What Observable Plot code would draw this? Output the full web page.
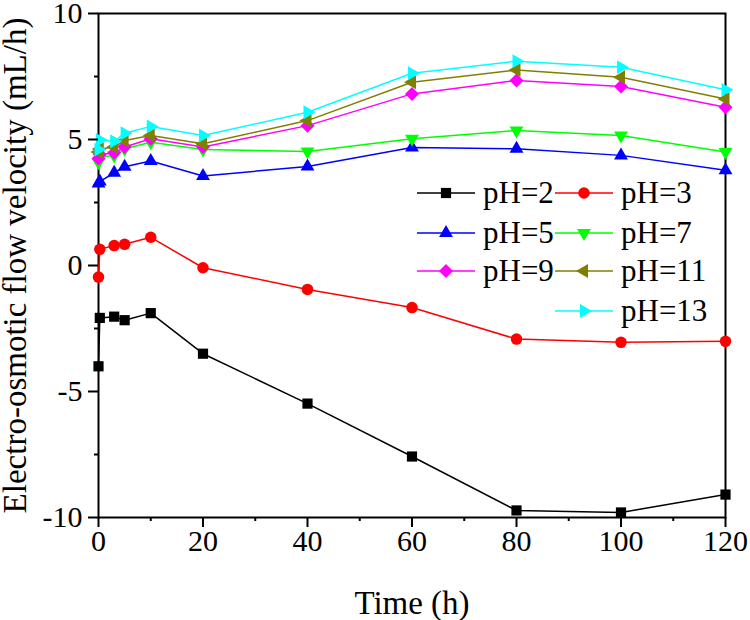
<!DOCTYPE html>
<html><head><meta charset="utf-8">
<script src="https://cdn.jsdelivr.net/npm/d3@7"></script>
<script src="https://cdn.jsdelivr.net/npm/@observablehq/plot@0.6"></script>
<style>
body{margin:0;background:#fff;}
#wrap{position:relative;width:750px;height:620px;}
#legend{position:absolute;left:0;top:0;pointer-events:none;}
#legend text{font-family:"Liberation Serif","Times New Roman",serif;}
</style></head><body><div id="wrap"></div>
<script>
// ---- data ----
const times = [0, 0.25, 3, 5, 10, 20, 40, 60, 80, 100, 120];
const seriesNames = ["pH=2", "pH=3", "pH=5", "pH=7", "pH=9", "pH=11", "pH=13"];
const pH2  = [-4.0, -2.08, -2.03, -2.17, -1.89, -3.5, -5.48, -7.58, -9.72, -9.8, -9.09];
const pH3  = [-0.46, 0.64, 0.79, 0.84, 1.12, -0.09, -0.95, -1.67, -2.92, -3.05, -3.01];
const pH5  = [3.25, 3.33, 3.68, 3.92, 4.15, 3.55, 3.93, 4.68, 4.63, 4.37, 3.78];
const pH7  = [4.1, 4.3, 4.37, 4.63, 4.89, 4.6, 4.52, 5.03, 5.36, 5.16, 4.5];
const pH9  = [4.25, 4.4, 4.47, 4.7, 5.03, 4.7, 5.55, 6.81, 7.34, 7.1, 6.28];
const pH11 = [4.5, 4.62, 4.7, 4.96, 5.16, 4.83, 5.75, 7.27, 7.76, 7.47, 6.61];
const pH13 = [4.6, 4.98, 4.93, 5.25, 5.52, 5.16, 6.08, 7.63, 8.11, 7.87, 6.97];
const seriesValues = [pH2, pH3, pH5, pH7, pH9, pH11, pH13];
const colors = ["#000000", "#ff0000", "#0000ff", "#00ff00", "#ff00ff", "#808000", "#00ffff"];
const xTicks = [0, 20, 40, 60, 80, 100, 120];
const xMinor = [10, 30, 50, 70, 90, 110];
const yTicks = [-10, -5, 0, 5, 10];
const yMinor = [-7.5, -2.5, 2.5, 7.5];
const xTitle = "Time (h)";
const yTitle = "Electro-osmotic flow velocity (mL/h)";

// ---- symbols ----
function tri(angleDeg, k) {
  return {draw(ctx, size) {
    const s = Math.sqrt(size / Math.PI) * k;
    for (let i = 0; i < 3; i++) {
      const a = (angleDeg + 120 * i) * Math.PI / 180;
      const x = s * Math.cos(a), y = s * Math.sin(a);
      if (i) ctx.lineTo(x, y); else ctx.moveTo(x, y);
    }
    ctx.closePath();
  }};
}
const square = {draw(ctx, size) { const s = Math.sqrt(size / Math.PI) * 1.02; ctx.rect(-s, -s, 2 * s, 2 * s); }};
const circle = {draw(ctx, size) { const s = Math.sqrt(size / Math.PI) * 1.15; ctx.moveTo(s, 0); ctx.arc(0, 0, s, 0, 2 * Math.PI); }};
const diamond = {draw(ctx, size) { const s = Math.sqrt(size / Math.PI) * 1.4; ctx.moveTo(0, -s); ctx.lineTo(s, 0); ctx.lineTo(0, s); ctx.lineTo(-s, 0); ctx.closePath(); }};
const symbols = [square, circle, tri(-90, 1.6), tri(90, 1.6), diamond, tri(180, 1.6), tri(0, 1.6)];

const rows = [];
seriesNames.forEach((name, i) => times.forEach((t, j) => rows.push({t, v: seriesValues[i][j], s: name})));

const font = "'Liberation Serif', 'Times New Roman', serif";
const marks = [Plot.frame({stroke: "black", strokeWidth: 2})];
seriesNames.forEach((name, i) => {
  const d = rows.filter(r => r.s === name);
  marks.push(Plot.line(d, {x: "t", y: "v", stroke: colors[i], strokeWidth: 1.5}));
  marks.push(Plot.dot(d, {x: "t", y: "v", fill: colors[i], stroke: "none", r: 5, symbol: symbols[i]}));
});
marks.push(
  Plot.axisX({ticks: xTicks, tickSize: 10, tickPadding: 2, fontSize: 30, strokeWidth: 2, label: null, tickFormat: d => String(d), fill: "black"}),
  Plot.axisX({ticks: xMinor, tickSize: 4, strokeWidth: 2, label: null, tickFormat: () => ""}),
  Plot.axisY({ticks: yTicks, tickSize: 10, tickPadding: 6, fontSize: 30, strokeWidth: 2, label: null, tickFormat: d => String(d), fill: "black"}),
  Plot.axisY({ticks: yMinor, tickSize: 4, strokeWidth: 2, label: null, tickFormat: () => ""}),
  Plot.text([xTitle], {text: d => d, frameAnchor: "bottom", dy: 96, lineAnchor: "bottom", fontSize: 33, fill: "black"}),
  Plot.text([yTitle], {text: d => d, frameAnchor: "left", textAnchor: "middle", dx: -83, rotate: -90, lineAnchor: "middle", fontSize: 33, fill: "black"})
);

const chart = Plot.plot({
  width: 750, height: 620,
  marginLeft: 98, marginRight: 25, marginTop: 13, marginBottom: 103,
  style: {fontFamily: font, background: "white", color: "black"},
  x: {domain: [0, 120], label: null},
  y: {domain: [-10, 10], label: null},
  marks
});
const wrap = document.getElementById("wrap");
wrap.appendChild(chart);

// ---- legend overlay ----
const legendCells = [
  {i: 0, col: 0, row: 0}, {i: 1, col: 1, row: 0},
  {i: 2, col: 0, row: 1}, {i: 3, col: 1, row: 1},
  {i: 4, col: 0, row: 2}, {i: 5, col: 1, row: 2},
  {i: 6, col: 1, row: 3}
];
const colX = [417, 555], rowY = [193, 233, 271, 311];
const svg = d3.select(wrap).append("svg").attr("id", "legend").attr("width", 750).attr("height", 620);
legendCells.forEach(c => {
  const x0 = colX[c.col], y0 = rowY[c.row];
  const g = svg.append("g");
  g.append("line").attr("x1", x0).attr("x2", x0 + 58).attr("y1", y0).attr("y2", y0)
    .attr("stroke", colors[c.i]).attr("stroke-width", 1.5);
  const p = d3.path(); symbols[c.i].draw(p, Math.PI * 25);
  g.append("path").attr("d", p.toString()).attr("transform", `translate(${x0 + 29},${y0})`).attr("fill", colors[c.i]);
  g.append("text").attr("x", x0 + 66).attr("y", y0 + 10).attr("font-size", 31)
    .attr("fill", "black").text(seriesNames[c.i]);
});
</script></body></html>
